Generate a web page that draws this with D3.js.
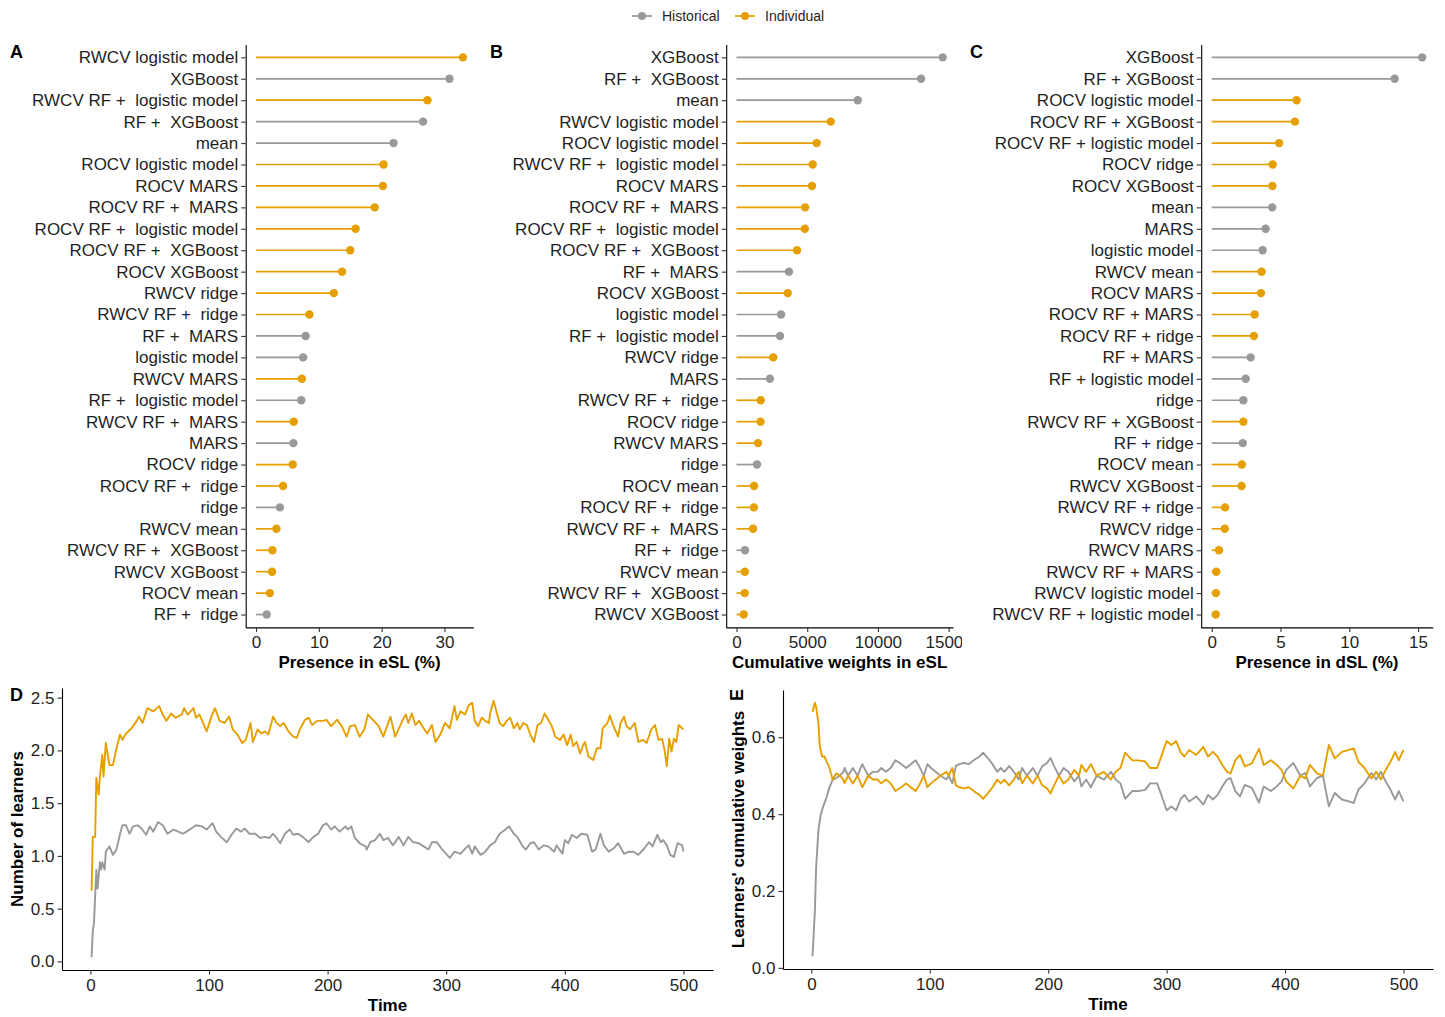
<!DOCTYPE html>
<html><head><meta charset="utf-8">
<script src="https://cdn.jsdelivr.net/npm/d3@7"></script>
<style>
body{margin:0;background:#fff}
svg text{font-family:"Liberation Sans",Arial,Helvetica,sans-serif}
</style>
</head><body>
<svg id="chart" width="1445" height="1017"></svg>
<script>
// ---------------- DATA ----------------
const seriesNames = ["Historical", "Individual"];
const seriesColors = ["#999999", "#E69F00"];

const aLearners = ["RWCV logistic model","XGBoost","RWCV RF +  logistic model","RF +  XGBoost","mean","ROCV logistic model","ROCV MARS","ROCV RF +  MARS","ROCV RF +  logistic model","ROCV RF +  XGBoost","ROCV XGBoost","RWCV ridge","RWCV RF +  ridge","RF +  MARS","logistic model","RWCV MARS","RF +  logistic model","RWCV RF +  MARS","MARS","ROCV ridge","ROCV RF +  ridge","ridge","RWCV mean","RWCV RF +  XGBoost","RWCV XGBoost","ROCV mean","RF +  ridge"];
const aValues = [32.95,30.8,27.3,26.6,21.9,20.3,20.2,18.9,15.85,15.0,13.7,12.4,8.5,7.9,7.5,7.3,7.2,6.0,5.95,5.85,4.3,3.8,3.25,2.6,2.55,2.2,1.7];
const aTicks = [0,10,20,30];

const bLearners = ["XGBoost","RF +  XGBoost","mean","RWCV logistic model","ROCV logistic model","RWCV RF +  logistic model","ROCV MARS","ROCV RF +  MARS","ROCV RF +  logistic model","ROCV RF +  XGBoost","RF +  MARS","ROCV XGBoost","logistic model","RF +  logistic model","RWCV ridge","MARS","RWCV RF +  ridge","ROCV ridge","RWCV MARS","ridge","ROCV mean","ROCV RF +  ridge","RWCV RF +  MARS","RF +  ridge","RWCV mean","RWCV RF +  XGBoost","RWCV XGBoost"];
const bValues = [14580,13050,8570,6660,5670,5390,5340,4850,4830,4280,3710,3620,3150,3080,2600,2360,1710,1700,1520,1450,1240,1230,1170,600,590,580,510];
const bTicks = [0,5000,10000,15000];

const cLearners = ["XGBoost","RF + XGBoost","ROCV logistic model","ROCV RF + XGBoost","ROCV RF + logistic model","ROCV ridge","ROCV XGBoost","mean","MARS","logistic model","RWCV mean","ROCV MARS","ROCV RF + MARS","ROCV RF + ridge","RF + MARS","RF + logistic model","ridge","RWCV RF + XGBoost","RF + ridge","ROCV mean","RWCV XGBoost","RWCV RF + ridge","RWCV ridge","RWCV MARS","RWCV RF + MARS","RWCV logistic model","RWCV RF + logistic model"];
const cValues = [15.3,13.3,6.17,6.05,4.9,4.43,4.41,4.4,3.92,3.7,3.63,3.58,3.12,3.07,2.83,2.47,2.3,2.3,2.26,2.19,2.17,0.97,0.95,0.53,0.33,0.31,0.29];
const cTicks = [0,5,10,15];

// Panel D: number of learners over time  [time, value]
const dHistorical = [[1,0.04],[2,0.29],[3,0.36],[5,0.87],[6,0.69],[8,0.94],[9,0.87],[10,0.94],[12,0.87],[13,1.04],[16,1.09],[19,1.01],[22,1.06],[25,1.21],[27,1.29],[30,1.29],[33,1.21],[36,1.28],[40,1.29],[43,1.26],[47,1.20],[50,1.28],[53,1.23],[57,1.32],[61,1.29],[65,1.21],[70,1.25],[74,1.23],[78,1.21],[81,1.23],[85,1.26],[89,1.29],[94,1.28],[98,1.25],[103,1.31],[106,1.23],[110,1.18],[115,1.13],[119,1.20],[123,1.26],[127,1.23],[130,1.26],[134,1.21],[139,1.21],[143,1.17],[147,1.18],[151,1.17],[154,1.21],[157,1.17],[160,1.12],[164,1.21],[168,1.25],[171,1.20],[175,1.21],[179,1.18],[184,1.13],[188,1.18],[192,1.21],[196,1.29],[199,1.31],[203,1.25],[206,1.28],[210,1.23],[215,1.28],[217,1.25],[220,1.28],[223,1.17],[227,1.12],[232,1.09],[233,1.06],[236,1.13],[240,1.15],[244,1.21],[247,1.15],[251,1.17],[255,1.10],[260,1.18],[264,1.10],[268,1.18],[272,1.13],[277,1.12],[281,1.09],[285,1.06],[288,1.13],[292,1.13],[296,1.07],[300,1.02],[303,0.98],[307,1.04],[312,1.02],[316,1.07],[319,1.10],[322,1.02],[324,1.09],[329,1.01],[333,1.04],[337,1.10],[341,1.13],[345,1.21],[350,1.25],[353,1.28],[357,1.21],[360,1.18],[364,1.10],[367,1.06],[371,1.12],[374,1.13],[378,1.06],[382,1.10],[386,1.09],[391,1.04],[393,1.10],[398,1.02],[400,1.15],[403,1.12],[406,1.20],[410,1.17],[414,1.21],[419,1.20],[423,1.04],[426,1.06],[430,1.21],[433,1.10],[437,1.04],[441,1.07],[445,1.12],[450,1.02],[454,1.04],[458,1.04],[462,1.01],[467,1.07],[471,1.13],[474,1.09],[478,1.20],[481,1.13],[483,1.15],[486,1.10],[489,1.01],[492,0.99],[495,1.12],[499,1.10],[500,1.04]];
const dIndividual = [[1,0.67],[2,1.18],[4,1.18],[5,1.74],[7,1.58],[8,1.75],[10,1.96],[11,1.75],[13,2.07],[16,1.86],[19,1.86],[22,2.02],[25,2.15],[27,2.10],[30,2.16],[34,2.20],[39,2.28],[41,2.32],[44,2.26],[48,2.40],[53,2.37],[58,2.42],[61,2.34],[64,2.28],[68,2.35],[72,2.31],[77,2.34],[79,2.40],[82,2.34],[87,2.40],[89,2.31],[92,2.34],[95,2.26],[98,2.18],[102,2.32],[105,2.40],[109,2.28],[113,2.26],[117,2.32],[120,2.20],[124,2.15],[128,2.07],[131,2.10],[135,2.26],[137,2.08],[141,2.20],[144,2.16],[147,2.18],[150,2.15],[154,2.32],[157,2.26],[160,2.23],[163,2.26],[167,2.18],[171,2.13],[174,2.12],[177,2.21],[181,2.29],[184,2.31],[187,2.24],[191,2.28],[196,2.28],[199,2.29],[203,2.23],[208,2.29],[212,2.23],[216,2.13],[219,2.23],[223,2.24],[227,2.13],[231,2.20],[234,2.34],[239,2.28],[243,2.23],[247,2.13],[253,2.32],[257,2.13],[261,2.23],[263,2.28],[266,2.34],[268,2.26],[271,2.35],[274,2.24],[277,2.28],[281,2.21],[284,2.16],[288,2.24],[291,2.08],[295,2.15],[299,2.26],[303,2.21],[307,2.42],[309,2.29],[312,2.37],[316,2.34],[319,2.43],[322,2.45],[324,2.28],[327,2.23],[330,2.31],[333,2.28],[336,2.26],[337,2.35],[340,2.47],[343,2.34],[345,2.26],[348,2.23],[351,2.28],[354,2.31],[357,2.21],[360,2.26],[362,2.20],[365,2.26],[368,2.24],[371,2.15],[374,2.08],[377,2.24],[380,2.26],[383,2.35],[386,2.29],[389,2.23],[392,2.13],[396,2.10],[399,2.15],[402,2.05],[405,2.15],[407,2.04],[410,2.08],[413,1.97],[415,2.04],[417,2.08],[420,1.94],[424,1.91],[427,2.02],[430,2.02],[432,2.21],[436,2.26],[438,2.33],[441,2.23],[445,2.13],[447,2.26],[450,2.32],[452,2.23],[455,2.20],[459,2.26],[462,2.08],[466,2.10],[469,2.07],[473,2.20],[476,2.24],[479,2.10],[482,2.11],[484,2.01],[486,1.85],[488,2.11],[490,1.99],[492,2.11],[494,2.08],[496,2.24],[499,2.21],[500,2.20]];
const dYTicks = [0,0.5,1,1.5,2,2.5];

// Panel E: learners' cumulative weights over time  [time, value]
const eHistorical = [[1,0.03],[3,0.15],[4,0.26],[6,0.36],[8,0.40],[10,0.42],[13,0.445],[15,0.467],[18,0.49],[21,0.494],[24,0.50],[27,0.51],[28,0.52],[31,0.50],[35,0.52],[39,0.50],[43,0.53],[48,0.50],[52,0.51],[56,0.51],[59,0.52],[63,0.51],[67,0.52],[71,0.54],[76,0.53],[80,0.52],[84,0.53],[88,0.54],[91,0.525],[95,0.50],[98,0.53],[101,0.52],[105,0.51],[109,0.50],[114,0.49],[116,0.50],[119,0.48],[122,0.525],[125,0.53],[129,0.533],[133,0.53],[137,0.54],[142,0.55],[145,0.56],[149,0.546],[153,0.53],[157,0.51],[160,0.52],[163,0.51],[167,0.525],[171,0.51],[175,0.49],[178,0.52],[182,0.50],[187,0.52],[191,0.50],[195,0.525],[199,0.533],[202,0.546],[205,0.525],[209,0.50],[213,0.52],[217,0.51],[222,0.485],[226,0.50],[228,0.472],[232,0.49],[236,0.47],[241,0.50],[247,0.49],[253,0.51],[257,0.49],[261,0.48],[265,0.44],[271,0.46],[276,0.46],[282,0.463],[286,0.48],[292,0.48],[296,0.446],[300,0.41],[304,0.42],[308,0.41],[312,0.44],[315,0.45],[319,0.433],[325,0.446],[331,0.425],[335,0.45],[339,0.438],[343,0.45],[347,0.472],[351,0.49],[354,0.494],[358,0.46],[362,0.446],[366,0.476],[372,0.468],[378,0.43],[382,0.472],[388,0.46],[393,0.472],[397,0.485],[401,0.515],[407,0.533],[413,0.50],[417,0.507],[421,0.472],[427,0.494],[432,0.50],[437,0.42],[442,0.455],[448,0.438],[454,0.433],[458,0.429],[462,0.464],[467,0.48],[473,0.507],[477,0.49],[481,0.51],[485,0.485],[489,0.464],[493,0.438],[496,0.46],[500,0.433]];
const eIndividual = [[1,0.666],[3,0.69],[4,0.68],[6,0.635],[7,0.58],[9,0.55],[11,0.55],[13,0.536],[15,0.523],[18,0.49],[21,0.506],[24,0.50],[27,0.49],[28,0.48],[31,0.50],[35,0.48],[39,0.50],[43,0.47],[48,0.50],[52,0.49],[56,0.49],[59,0.48],[63,0.49],[67,0.48],[71,0.46],[76,0.47],[80,0.48],[84,0.47],[88,0.46],[91,0.475],[95,0.50],[98,0.47],[101,0.48],[105,0.49],[109,0.50],[114,0.51],[116,0.50],[119,0.52],[122,0.475],[125,0.47],[129,0.467],[133,0.47],[137,0.46],[142,0.45],[145,0.44],[149,0.454],[153,0.47],[157,0.49],[160,0.48],[163,0.49],[167,0.475],[171,0.49],[175,0.51],[178,0.48],[182,0.50],[187,0.48],[191,0.50],[195,0.475],[199,0.467],[202,0.454],[205,0.475],[209,0.50],[213,0.48],[217,0.49],[222,0.515],[226,0.50],[228,0.528],[232,0.51],[236,0.53],[241,0.50],[247,0.51],[253,0.49],[257,0.51],[261,0.52],[265,0.56],[271,0.54],[276,0.54],[282,0.537],[286,0.52],[292,0.52],[296,0.554],[300,0.59],[304,0.58],[308,0.59],[312,0.56],[315,0.55],[319,0.567],[325,0.554],[331,0.575],[335,0.55],[339,0.562],[343,0.55],[347,0.528],[351,0.51],[354,0.506],[358,0.54],[362,0.554],[366,0.524],[372,0.532],[378,0.57],[382,0.528],[388,0.54],[393,0.528],[397,0.515],[401,0.485],[407,0.467],[413,0.50],[417,0.493],[421,0.528],[427,0.506],[432,0.50],[437,0.58],[442,0.545],[448,0.562],[454,0.567],[458,0.571],[462,0.536],[467,0.52],[473,0.493],[477,0.51],[481,0.49],[485,0.515],[489,0.536],[493,0.562],[496,0.54],[500,0.567]];
const eYTicks = [0,0.2,0.4,0.6];
const timeTicks = [0,100,200,300,400,500];

// ---------------- DRAWING ----------------
const svg = d3.select("#chart");
const color = d3.scaleOrdinal().domain(seriesNames).range(seriesColors);
const TXT = "#1f1f1f";
const FS = 17;
const groupOf = n => (n.startsWith("ROCV") || n.startsWith("RWCV")) ? "Individual" : "Historical";

function styleAxis(sel){
  sel.select(".domain").attr("stroke","#000").attr("stroke-width",1.1);
  sel.selectAll(".tick line").attr("stroke","#333").attr("stroke-width",1.1);
  sel.selectAll(".tick text").attr("font-size",FS).attr("fill",TXT).style("white-space","pre");
}

function tag(label, x, y, rotate){
  const t = svg.append("text").text(label).attr("font-size",18).attr("font-weight","bold").attr("fill","#000");
  if (rotate) t.attr("text-anchor","middle").attr("dominant-baseline","central")
      .attr("transform",`translate(${x},${y}) rotate(-90)`);
  else t.attr("x",x).attr("y",y);
}

function lollipop(p){
  const g = svg.append("g");
  if (p.bgX !== undefined) g.append("rect").attr("x",p.bgX).attr("y",28).attr("width",1445-p.bgX).attr("height",652).attr("fill","#fff");
  const max = d3.max(p.values);
  const x = d3.scaleLinear().domain([-0.05*max, 1.05*max]).range([p.left, p.right]);
  const y = d3.scalePoint().domain(p.learners).range([44.5, 627.4]).padding(0.6);
  const rows = p.learners.map((n,i)=>({name:n, value:p.values[i], group:groupOf(n)}));

  const xa = g.append("g").attr("transform","translate(0,627.4)")
    .call(d3.axisBottom(x).tickValues(p.ticks).tickSize(4.5).tickSizeOuter(0).tickPadding(4).tickFormat(d3.format("d")));
  styleAxis(xa);
  const ya = g.append("g").attr("transform",`translate(${p.left},0)`)
    .call(d3.axisLeft(y).tickSize(4.5).tickSizeOuter(0).tickPadding(3));
  styleAxis(ya);

  g.selectAll("line.seg").data(rows).join("line").attr("class","seg")
    .attr("x1",x(0)).attr("x2",d=>x(d.value)).attr("y1",d=>y(d.name)).attr("y2",d=>y(d.name))
    .attr("stroke",d=>color(d.group)).attr("stroke-width",1.7);
  g.selectAll("circle").data(rows).join("circle")
    .attr("cx",d=>x(d.value)).attr("cy",d=>y(d.name)).attr("r",4.2).attr("fill",d=>color(d.group));

  g.append("text").text(p.title).attr("x",(p.left+p.right)/2).attr("y",668)
    .attr("text-anchor","middle").attr("font-size",FS).attr("font-weight","bold").attr("fill","#000");
  tag(p.tag, p.tagX, 58);
}

lollipop({tag:"A", tagX:10, learners:aLearners, values:aValues, ticks:aTicks, left:245.7, right:473.3, title:"Presence in eSL (%)"});
lollipop({tag:"B", tagX:490, learners:bLearners, values:bValues, ticks:bTicks, left:726.2, right:953, title:"Cumulative weights in eSL"});
lollipop({tag:"C", tagX:970, bgX:962, learners:cLearners, values:cValues, ticks:cTicks, left:1201.2, right:1432.7, title:"Presence in dSL (%)"});

function timePanel(p){
  const g = svg.append("g");
  const tExt = d3.extent(p.series.flat(), d=>d[0]);
  const vExt = d3.extent(p.series.flat(), d=>d[1]);
  const tPad = 0.05*(tExt[1]-tExt[0]), vPad = 0.05*(vExt[1]-vExt[0]);
  const x = d3.scaleLinear().domain([tExt[0]-tPad, tExt[1]+tPad]).range([p.left, p.right]);
  const y = d3.scaleLinear().domain([vExt[0]-vPad, vExt[1]+vPad]).range([p.bottom, p.top]);

  const xa = g.append("g").attr("transform",`translate(0,${p.bottom})`)
    .call(d3.axisBottom(x).tickValues(timeTicks).tickSize(4.5).tickSizeOuter(0).tickPadding(4).tickFormat(d3.format("d")));
  styleAxis(xa);
  const ya = g.append("g").attr("transform",`translate(${p.left},0)`)
    .call(d3.axisLeft(y).tickValues(p.yTicks).tickSize(4.5).tickSizeOuter(0).tickPadding(3).tickFormat(d3.format(".1f")));
  styleAxis(ya);

  const line = d3.line().x(d=>x(d[0])).y(d=>y(d[1]));
  p.series.forEach((s,i)=>{
    g.append("path").datum(s).attr("d",line).attr("fill","none")
      .attr("stroke",color(seriesNames[i])).attr("stroke-width",1.9).attr("stroke-linejoin","round");
  });

  g.append("text").text("Time").attr("x",(p.left+p.right)/2).attr("y",p.bottom+41)
    .attr("text-anchor","middle").attr("font-size",FS).attr("font-weight","bold").attr("fill","#000");
  g.append("text").text(p.ytitle).attr("text-anchor","middle").attr("font-size",FS).attr("font-weight","bold").attr("fill","#000")
    .attr("transform",`translate(${p.ytitleX},${(p.top+p.bottom)/2}) rotate(-90)`);
}

timePanel({series:[dHistorical, dIndividual], yTicks:dYTicks, left:62, right:713, top:688, bottom:970, ytitle:"Number of learners", ytitleX:23});
timePanel({series:[eHistorical, eIndividual], yTicks:eYTicks, left:783, right:1433, top:690, bottom:969, ytitle:"Learners' cumulative weights", ytitleX:744});
tag("D", 10, 701);
tag("E", 737, 695, true);

// Legend
const leg = svg.append("g");
const legX = [632, 735];
seriesNames.forEach((n,i)=>{
  const x0 = legX[i];
  leg.append("line").attr("x1",x0).attr("x2",x0+20).attr("y1",16).attr("y2",16).attr("stroke",color(n)).attr("stroke-width",1.7);
  leg.append("circle").attr("cx",x0+10).attr("cy",16).attr("r",4).attr("fill",color(n));
  leg.append("text").text(n).attr("x",x0+30).attr("y",21).attr("font-size",14).attr("fill",TXT);
});
</script>
</body></html>
